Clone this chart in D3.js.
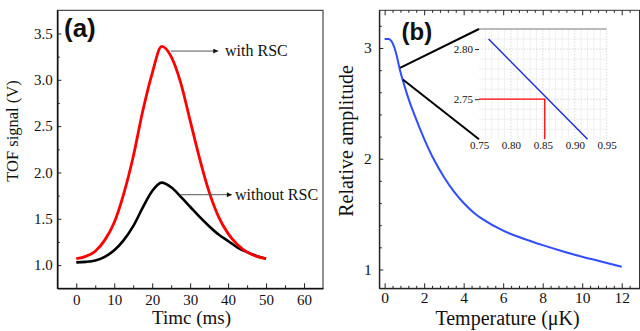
<!DOCTYPE html>
<html lang="en">
<head>
  <meta charset="utf-8">
  <title>TOF signal and relative amplitude</title>
  <style>
    body { margin: 0; background: #fff; }
    svg text { font-family: "Liberation Serif", "Times New Roman", serif; fill: #111; }
    .tick line { stroke: #222; }
    .domain { stroke: #111; }
    svg text.label-bold { font-family: "Liberation Sans", Arial, sans-serif; font-weight: bold; }
  </style>
</head>
<body>
<div id="chart"></div>
<script src="https://d3js.org/d3.v7.min.js"></script>
<script>
  // panel (a): TOF signal vs time
  const timeMs = [0, 2.5, 5, 7.5, 10, 12.5, 15, 17.5, 20, 22.5, 25, 27.5, 30, 32.5, 35, 37.5, 40, 42.5, 45, 47.5, 50];
  const withRSC = [1.07, 1.095, 1.15, 1.27, 1.46, 1.77, 2.17, 2.66, 3.07, 3.36, 3.25, 2.97, 2.56, 2.15, 1.79, 1.52, 1.34, 1.22, 1.14, 1.095, 1.07];
  const withoutRSC = [1.03, 1.035, 1.05, 1.09, 1.16, 1.27, 1.42, 1.62, 1.80, 1.89, 1.84, 1.74, 1.63, 1.52, 1.42, 1.33, 1.26, 1.19, 1.14, 1.10, 1.07];
  const timeTicks = [0, 10, 20, 30, 40, 50, 60];
  const signalTicks = [1.0, 1.5, 2.0, 2.5, 3.0, 3.5];

  // panel (b): relative amplitude vs temperature
  const tempUK = [0, 0.2, 0.35, 0.5, 0.625, 0.75, 1.0, 1.25, 1.5, 2, 2.5, 3, 3.5, 4, 4.5, 5, 6, 7, 8, 9, 10, 11, 12];
  const amplitude = [3.08, 3.08, 3.06, 3.0, 2.92, 2.82, 2.66, 2.52, 2.40, 2.18, 1.99, 1.835, 1.705, 1.6, 1.515, 1.45, 1.35, 1.28, 1.22, 1.165, 1.115, 1.07, 1.025];
  const tempTicks = [0, 2, 4, 6, 8, 10, 12];
  const ampTicks = [1, 2, 3];

  // inset of panel (b)
  const insetT = [0.765, 0.92];
  const insetAmp = [2.81, 2.71];
  const insetXTicks = [0.75, 0.80, 0.85, 0.90, 0.95];
  const insetYTicks = [2.75, 2.80];
  const markT = 0.853, markAmp = 2.75;
  const zoomFrom = [[0.78, 2.82], [0.92, 2.715]];

  const width = 640, height = 331;
  const serif = '"Liberation Serif", "Times New Roman", serif';

  const svg = d3.select("#chart")
    .append("svg")
    .attr("width", width)
    .attr("height", height);

  const styleAxis = (g, size) => {
    g.attr("font-family", serif).attr("font-size", size);
    g.selectAll("text").style("font-family", serif).style("font-size", size + "px");
  };

  // ---------- panel (a) ----------
  const xA = d3.scaleLinear().domain([-5, 65]).range([57.3, 323]);
  const yA = d3.scaleLinear().domain([0.75, 3.75]).range([288.3, 10.3]);

  svg.append("rect")
    .attr("x", xA.range()[0]).attr("y", yA.range()[1])
    .attr("width", xA.range()[1] - xA.range()[0])
    .attr("height", yA.range()[0] - yA.range()[1])
    .attr("fill", "none").attr("stroke", "#222").attr("stroke-width", 1);

  const axA_x = svg.append("g")
    .attr("transform", `translate(0,${yA.range()[0]})`)
    .call(d3.axisBottom(xA).tickValues(timeTicks).tickFormat(d3.format("d"))
      .tickSizeInner(-5).tickSizeOuter(0).tickPadding(6));
  svg.append("g")
    .attr("transform", `translate(0,${yA.range()[0]})`)
    .call(d3.axisBottom(xA).tickValues(d3.range(5, 65, 10)).tickFormat("").tickSize(-3))
    .select(".domain").remove();

  const axA_y = svg.append("g")
    .attr("transform", `translate(${xA.range()[0]},0)`)
    .call(d3.axisLeft(yA).tickValues(signalTicks).tickFormat(d3.format(".1f"))
      .tickSizeInner(-4).tickSizeOuter(0).tickPadding(4.6));
  svg.append("g")
    .attr("transform", `translate(${xA.range()[0]},0)`)
    .call(d3.axisLeft(yA).tickValues(d3.range(1.25, 3.75, 0.5)).tickFormat("").tickSize(-2.5))
    .select(".domain").remove();

  [axA_x, axA_y].forEach(g => {
    g.select(".domain").attr("stroke-width", 1.5);
    styleAxis(g, 15);
  });

  const lineA = (vals) => d3.line()
    .x((d, i) => xA(timeMs[i]))
    .y(d => yA(d))
    .curve(d3.curveMonotoneX)(vals);

  svg.append("path").attr("d", lineA(withoutRSC))
    .attr("fill", "none").attr("stroke", "#000").attr("stroke-width", 2.6);
  svg.append("path").attr("d", lineA(withRSC))
    .attr("fill", "none").attr("stroke", "#ff0000").attr("stroke-width", 2.8);

  // annotation arrows
  svg.append("defs").append("marker")
    .attr("id", "arr")
    .attr("viewBox", "0 0 10 10")
    .attr("refX", 10).attr("refY", 5)
    .attr("markerWidth", 6).attr("markerHeight", 5)
    .attr("markerUnits", "userSpaceOnUse")
    .attr("orient", "auto")
    .append("path").attr("d", "M0,0L10,5L0,10Z").attr("fill", "#111");

  const notes = [
    { x0: 24.9, x1: 37.4, y: 3.31, tx: 39.2, text: "with RSC" },
    { x0: 27.2, x1: 41.0, y: 1.76, tx: 41.8, text: "without RSC" }
  ];
  notes.forEach(n => {
    svg.append("line")
      .attr("x1", xA(n.x0)).attr("x2", xA(n.x1))
      .attr("y1", yA(n.y)).attr("y2", yA(n.y))
      .attr("stroke", "#555").attr("stroke-width", 1)
      .attr("marker-end", "url(#arr)");
    svg.append("text")
      .attr("x", xA(n.tx)).attr("y", yA(n.y) + 5)
      .style("font-size", "16px")
      .text(n.text);
  });

  svg.append("text").attr("class", "label-bold")
    .attr("x", 64).attr("y", 36.5)
    .style("font-size", "26px")
    .text("(a)");

  svg.append("text")
    .attr("text-anchor", "middle")
    .attr("x", 191.5).attr("y", 324)
    .style("font-size", "19px")
    .text("Timc (ms)");

  svg.append("text")
    .attr("text-anchor", "middle")
    .attr("transform", "translate(18,131) rotate(-90)")
    .style("font-size", "16.5px")
    .text("TOF signal (V)");

  // ---------- panel (b) ----------
  const xB = d3.scaleLinear().domain([-0.27, 12.9]).range([379.3, 639.5]);
  const yB = d3.scaleLinear().domain([0.83, 3.34]).range([288.3, 10.3]);
  const minorT = d3.range(0.4, 12.8, 0.4).filter(v => Math.abs(v / 2 - Math.round(v / 2)) > 0.01);

  svg.append("rect")
    .attr("x", xB.range()[0]).attr("y", yB.range()[1])
    .attr("width", xB.range()[1] - xB.range()[0])
    .attr("height", yB.range()[0] - yB.range()[1])
    .attr("fill", "none").attr("stroke", "#333").attr("stroke-width", 1);

  const axB_x = svg.append("g")
    .attr("transform", `translate(0,${yB.range()[0]})`)
    .call(d3.axisBottom(xB).tickValues(tempTicks).tickFormat(d3.format("d"))
      .tickSizeInner(-5).tickSizeOuter(0).tickPadding(4));
  svg.append("g")
    .attr("transform", `translate(0,${yB.range()[0]})`)
    .call(d3.axisBottom(xB).tickValues(minorT).tickFormat("").tickSize(-2.5))
    .select(".domain").remove();

  // top ticks
  svg.append("g")
    .attr("transform", `translate(0,${yB.range()[1]})`)
    .call(d3.axisTop(xB).tickValues(tempTicks).tickFormat("").tickSizeInner(-5).tickSizeOuter(0))
    .select(".domain").remove();
  svg.append("g")
    .attr("transform", `translate(0,${yB.range()[1]})`)
    .call(d3.axisTop(xB).tickValues(minorT).tickFormat("").tickSize(-2.5))
    .select(".domain").remove();

  const axB_y = svg.append("g")
    .attr("transform", `translate(${xB.range()[0]},0)`)
    .call(d3.axisLeft(yB).tickValues(ampTicks).tickFormat(d3.format("d"))
      .tickSizeInner(-4).tickSizeOuter(0).tickPadding(7.6));
  svg.append("g")
    .attr("transform", `translate(${xB.range()[0]},0)`)
    .call(d3.axisLeft(yB).tickValues(d3.range(1.2, 3.3, 0.2).filter(v => Math.abs(v - Math.round(v)) > 0.01))
      .tickFormat("").tickSize(-2.5))
    .select(".domain").remove();

  [axB_x, axB_y].forEach(g => {
    g.select(".domain").attr("stroke", "#333").attr("stroke-width", 1);
    styleAxis(g, 15.5);
  });

  svg.append("path")
    .datum(amplitude)
    .attr("d", d3.line().x((d, i) => xB(tempUK[i])).y(d => yB(d)).curve(d3.curveMonotoneX))
    .attr("fill", "none").attr("stroke", "#2f4dff").attr("stroke-width", 2);

  svg.append("text").attr("class", "label-bold")
    .attr("x", 401.5).attr("y", 40)
    .style("font-size", "24px")
    .text("(b)");

  svg.append("text")
    .attr("text-anchor", "middle")
    .attr("x", 507.5).attr("y", 325)
    .style("font-size", "20px")
    .text("Temperature (\u03bcK)");

  svg.append("text")
    .attr("text-anchor", "middle")
    .attr("transform", "translate(353,141) rotate(-90)")
    .style("font-size", "20px")
    .text("Relative amplitude");

  // ---------- inset ----------
  const xI = d3.scaleLinear().domain([0.75, 0.95]).range([479, 606.7]);
  const yI = d3.scaleLinear().domain([2.71, 2.82]).range([139.3, 29]);

  const inset = svg.append("g");
  inset.append("rect")
    .attr("x", xI.range()[0]).attr("y", yI.range()[1])
    .attr("width", xI.range()[1] - xI.range()[0])
    .attr("height", yI.range()[0] - yI.range()[1])
    .attr("fill", "#fff");

  // minor grid
  inset.append("g").selectAll("line")
    .data(d3.range(0.76, 0.95, 0.01).filter(v => Math.abs(v * 20 - Math.round(v * 20)) > 0.01))
    .join("line")
    .attr("x1", d => xI(d)).attr("x2", d => xI(d))
    .attr("y1", yI.range()[0]).attr("y2", yI.range()[1])
    .attr("stroke", "#ececec").attr("stroke-width", 0.8);
  inset.append("g").selectAll("line")
    .data(d3.range(2.72, 2.82, 0.01).filter(v => Math.abs(v * 20 - Math.round(v * 20)) > 0.01))
    .join("line")
    .attr("x1", xI.range()[0]).attr("x2", xI.range()[1])
    .attr("y1", d => yI(d)).attr("y2", d => yI(d))
    .attr("stroke", "#ececec").attr("stroke-width", 0.8);
  // major grid
  inset.append("g").selectAll("line")
    .data(insetXTicks.slice(1))
    .join("line")
    .attr("x1", d => xI(d)).attr("x2", d => xI(d))
    .attr("y1", yI.range()[0]).attr("y2", yI.range()[1])
    .attr("stroke", "#cfcfcf").attr("stroke-width", 0.8).attr("stroke-dasharray", "1.5,1.5");
  inset.append("g").selectAll("line")
    .data(insetYTicks)
    .join("line")
    .attr("x1", xI.range()[0]).attr("x2", xI.range()[1])
    .attr("y1", d => yI(d)).attr("y2", d => yI(d))
    .attr("stroke", "#cfcfcf").attr("stroke-width", 0.8).attr("stroke-dasharray", "1.5,1.5");

  inset.append("line")
    .attr("x1", xI.range()[0]).attr("x2", xI.range()[1])
    .attr("y1", yI.range()[1]).attr("y2", yI.range()[1])
    .attr("stroke", "#777").attr("stroke-width", 1);

  const axI_x = inset.append("g")
    .attr("transform", `translate(0,${yI.range()[0]})`)
    .call(d3.axisBottom(xI).tickValues(insetXTicks).tickFormat(d3.format(".2f")).tickSize(0).tickPadding(2));
  const axI_y = inset.append("g")
    .attr("transform", `translate(${xI.range()[0]},0)`)
    .call(d3.axisLeft(yI).tickValues(insetYTicks).tickFormat(d3.format(".2f")).tickSize(4).tickPadding(2));
  [axI_x, axI_y].forEach(g => {
    g.select(".domain").remove();
    g.selectAll("line").attr("stroke", "#999");
    styleAxis(g, 11);
    g.selectAll("text").attr("fill", "#222");
  });

  // marker lines at the 2.75 crossing
  inset.append("path")
    .attr("d", `M${xI(0.75)},${yI(markAmp)}H${xI(markT)}V${yI(2.71)}`)
    .attr("fill", "none").attr("stroke", "#ff0000").attr("stroke-width", 1.3);

  inset.append("path")
    .datum(insetAmp)
    .attr("d", d3.line().x((d, i) => xI(insetT[i])).y(d => yI(d)))
    .attr("fill", "none").attr("stroke", "#1f2fd8").attr("stroke-width", 1.5);

  // zoom connector lines
  const corners = [[0.75, 2.82], [0.75, 2.71]];
  zoomFrom.forEach((p, i) => {
    svg.append("line")
      .attr("x1", xB(p[0])).attr("y1", yB(p[1]))
      .attr("x2", xI(corners[i][0])).attr("y2", yI(corners[i][1]))
      .attr("stroke", "#000").attr("stroke-width", 2);
  });
</script>
</body>
</html>
